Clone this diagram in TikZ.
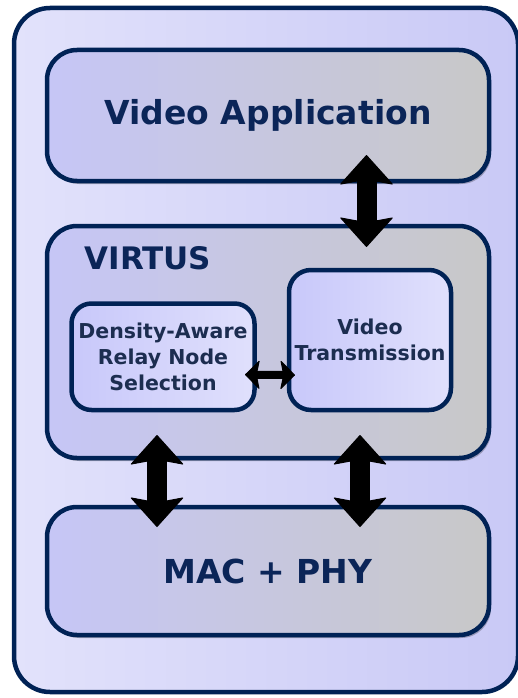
\documentclass[tikz,border=0pt]{standalone}
\usepackage{fontspec}
\setmainfont{DejaVu Sans}
\usetikzlibrary{arrows.meta,shadows}
\definecolor{navy}{HTML}{002255}
\definecolor{navytext}{HTML}{0B2558}
\definecolor{smalltext}{HTML}{1C2D50}
\definecolor{framel}{HTML}{E2E2FB}
\definecolor{framer}{HTML}{C9C9F6}
\definecolor{layerl}{HTML}{C6C6F6}
\definecolor{layerr}{HTML}{C8C8C8}
\definecolor{model}{HTML}{C8C8FA}
\definecolor{moder}{HTML}{E0E0FC}
\begin{document}
\begin{tikzpicture}[x=1pt,y=-1pt,line join=round,
  frame/.style={draw=navy,line width=4.5pt,rounded corners=36pt,left color=framel,right color=framer,outer sep=0pt,inner sep=0pt},
  layer/.style={draw=navy,line width=4.5pt,rounded corners=30pt,left color=layerl,right color=layerr,outer sep=0pt,inner sep=0pt,
    drop shadow={shadow xshift=2pt,shadow yshift=-3pt,fill=black,opacity=.25}},
  module/.style={draw=navy,line width=4.5pt,rounded corners=22pt,left color=model,right color=moder,outer sep=0pt,inner sep=0pt,
    align=center,text=smalltext,font=\bfseries\fontsize{20.5pt}{26pt}\selectfont},
  bigtext/.style={text=navytext,font=\bfseries\fontsize{33pt}{40pt}\selectfont},
  bigarrow/.style={line width=20pt,{Stealth[length=30pt,width=54pt,inset=5pt,line width=1pt,round]}-{Stealth[length=30pt,width=54pt,inset=5pt,line width=1pt,round]}},
  smallarrow/.style={line width=8pt,{Stealth[length=15pt,width=30pt,inset=3pt,line width=1pt,round]}-{Stealth[length=15pt,width=30pt,inset=3pt,line width=1pt,round]}}]
  \useasboundingbox (0,0) rectangle (517,698);
  % outer frame
  \node[frame,minimum width=504pt,minimum height=684pt] (frame) at (266,350) {};
  % layers
  \node[layer,bigtext,minimum width=442pt,minimum height=131pt] (app) at (268,115.5) {Video Application};
  \node[layer,minimum width=442pt,minimum height=232pt] (virtus) at (268,342) {};
  \node[anchor=base west,text=navytext,font=\bfseries\fontsize{31pt}{38pt}\selectfont] (virtuslabel) at (81,269) {VIRTUS};
  \node[layer,bigtext,minimum width=442pt,minimum height=128pt] (mac) at (268,571) {MAC + PHY};
  % VIRTUS modules
  \node[module,minimum width=183pt,minimum height=106.5pt,rounded corners=20pt] (relay) at (163,356.75) {Density-Aware\\Relay Node\\Selection};
  \node[module,minimum width=162pt,minimum height=140pt] (vt) at (370,340) {Video\\Transmission};
  % arrows
  \draw[bigarrow,shorten <=-26pt,shorten >=-21pt] ([xshift=98.5pt]app.south) -- ([xshift=98.5pt]virtus.north);
  \draw[bigarrow,shorten <=-23pt,shorten >=-20pt] ([xshift=-111pt]virtus.south) -- ([xshift=-111pt]mac.north);
  \draw[bigarrow,shorten <=-23pt,shorten >=-20pt] ([xshift=92pt]virtus.south) -- ([xshift=92pt]mac.north);
  \draw[smallarrow,shorten <=-9.5pt,shorten >=-6pt] ([yshift=-18pt]relay.east) -- ([yshift=-35pt]vt.west);
\end{tikzpicture}
\end{document}
